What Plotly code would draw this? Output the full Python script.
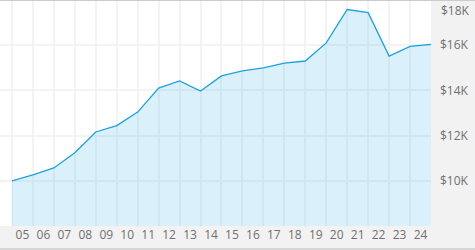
import plotly.graph_objects as go

year_labels = ["05", "06", "07", "08", "09", "10", "11", "12", "13", "14",
               "15", "16", "17", "18", "19", "20", "21", "22", "23", "24"]
values = [10000, 10260, 10570, 11240, 12160, 12440, 13040, 14100, 14420, 13970,
          14640, 14860, 15000, 15210, 15300, 16100, 17580, 17440, 15520, 15950, 16040]
y_ticks = [10000, 12000, 14000, 16000]
y_tick_text = ["$10K", "$12K", "$14K", "$16K"]
top_label = "$18K"

pos = list(range(len(values)))
label_pos = [i + 0.5 for i in range(len(year_labels))]

fig = go.Figure()
fig.add_trace(go.Scatter(
    x=pos, y=values, mode="lines",
    line=dict(color="#1ba1e2", width=1.3),
    fill="tozeroy", fillcolor="rgba(27,161,226,0.16)",
    hoverinfo="skip", showlegend=False,
))

font = dict(family="Open Sans, Liberation Sans, Arial, sans-serif", size=12, color="#707070")
grid = "#f3f3f3"

fig.update_layout(
    width=475, height=250,
    margin=dict(l=0, r=44, t=0, b=24),
    paper_bgcolor="#f2f2f2", plot_bgcolor="#ffffff",
    font=font,
    xaxis=dict(
        range=[-12 / 21, len(values) - 1],
        tickvals=label_pos, ticktext=year_labels,
        showgrid=False, zeroline=False, showline=False, ticks="",
        tickfont=font,
        minor=dict(tick0=0, dtick=1, showgrid=True, gridcolor=grid, gridwidth=2, ticks=""),
    ),
    yaxis=dict(
        range=[8000, 18000], side="right",
        tickvals=y_ticks + [18000], ticktext=y_tick_text + [""],
        showgrid=True, gridcolor=grid, gridwidth=2,
        zeroline=False, showline=False, ticks="",
        ticklabelstandoff=8, tickfont=font,
    ),
    annotations=[dict(
        x=1, xref="paper", y=18000, yref="y", text=top_label,
        xanchor="left", yanchor="middle", xshift=8, yshift=-10,
        showarrow=False, font=font,
    )],
    shapes=[
        dict(type="line", xref="paper", yref="paper", x0=0, x1=1.2, y0=1, y1=1,
             line=dict(color="#cccccc", width=2)),
        dict(type="line", xref="paper", yref="paper", x0=0, x1=1.2,
             y0=-23 / 226, y1=-23 / 226, line=dict(color="#cccccc", width=1.5)),
    ],
)

fig.write_html("out.html")
